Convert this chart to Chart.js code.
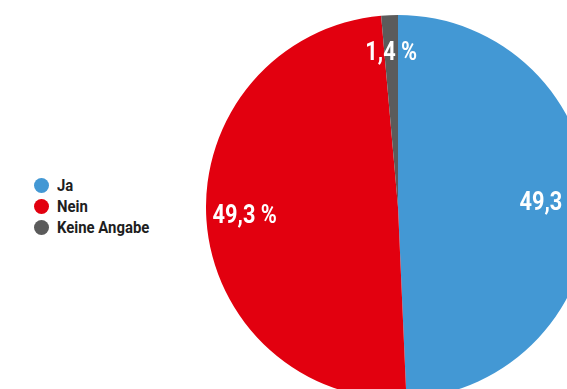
<!DOCTYPE html>
<html>
<head>
<meta charset="utf-8">
<script src="https://cdn.jsdelivr.net/npm/chart.js@4.4.0/dist/chart.umd.min.js"></script>
<style>
  html, body { margin: 0; padding: 0; background: #fff; overflow: hidden; width: 567px; height: 389px; }
  #pieBox { position: absolute; left: 206px; top: 15px; width: 384px; height: 384px; }
  #legend { position: absolute; left: 34px; top: 175px; font-family: Roboto, sans-serif; font-weight: bold; font-size: 16px; color: #1e1e1e; }
  #legend div { display: flex; align-items: center; height: 21px; }
  #legend span.dot { width: 15px; height: 15px; border-radius: 50%; margin-right: 8px; display: inline-block; }
  #legend span.txt { display: inline-block; transform: scaleX(0.93); transform-origin: left center; }
</style>
</head>
<body>
<div id="legend"></div>
<div id="pieBox"><canvas id="pie"></canvas></div>
<script>
  // Umfrage: Antworten in Prozent
  const labels = ['Ja', 'Nein', 'Keine Angabe'];
  const values = [49.3, 49.3, 1.4];
  const colors = ['#4398d4', '#e2000f', '#5b5b5b'];

  // Legende links als HTML
  const legend = document.getElementById('legend');
  labels.forEach(function (name, i) {
    const row = document.createElement('div');
    const dot = document.createElement('span');
    dot.className = 'dot';
    dot.style.background = colors[i];
    const txt = document.createElement('span');
    txt.className = 'txt';
    txt.textContent = name;
    row.appendChild(dot);
    row.appendChild(txt);
    legend.appendChild(row);
  });

  // Prozentwerte in die Segmente schreiben (schmal gestaucht)
  const sliceLabels = {
    id: 'sliceLabels',
    afterDatasetsDraw(chart) {
      const ctx = chart.ctx;
      const meta = chart.getDatasetMeta(0);
      const squeeze = 0.87;
      meta.data.forEach(function (arc, i) {
        const p = arc.getProps(['x', 'y', 'startAngle', 'endAngle', 'outerRadius'], true);
        const mid = (p.startAngle + p.endAngle) / 2;
        const r = p.outerRadius * 0.8;
        const text = values[i].toFixed(1).replace('.', ',') + ' %';
        ctx.save();
        ctx.translate(p.x + Math.cos(mid) * r, p.y + Math.sin(mid) * r);
        ctx.scale(squeeze, 1);
        ctx.fillStyle = '#fff';
        ctx.font = 'bold 25px Roboto, sans-serif';
        ctx.textAlign = 'center';
        ctx.textBaseline = 'middle';
        ctx.fillText(text, 0, 0);
        ctx.restore();
      });
    }
  };

  new Chart(document.getElementById('pie'), {
    type: 'pie',
    data: {
      labels: labels,
      datasets: [{
        data: values,
        backgroundColor: colors,
        borderWidth: 0
      }]
    },
    options: {
      responsive: true,
      maintainAspectRatio: false,
      animation: false,
      layout: { padding: 0 },
      plugins: {
        legend: { display: false },
        tooltip: { enabled: false }
      }
    },
    plugins: [sliceLabels]
  });
</script>
</body>
</html>
